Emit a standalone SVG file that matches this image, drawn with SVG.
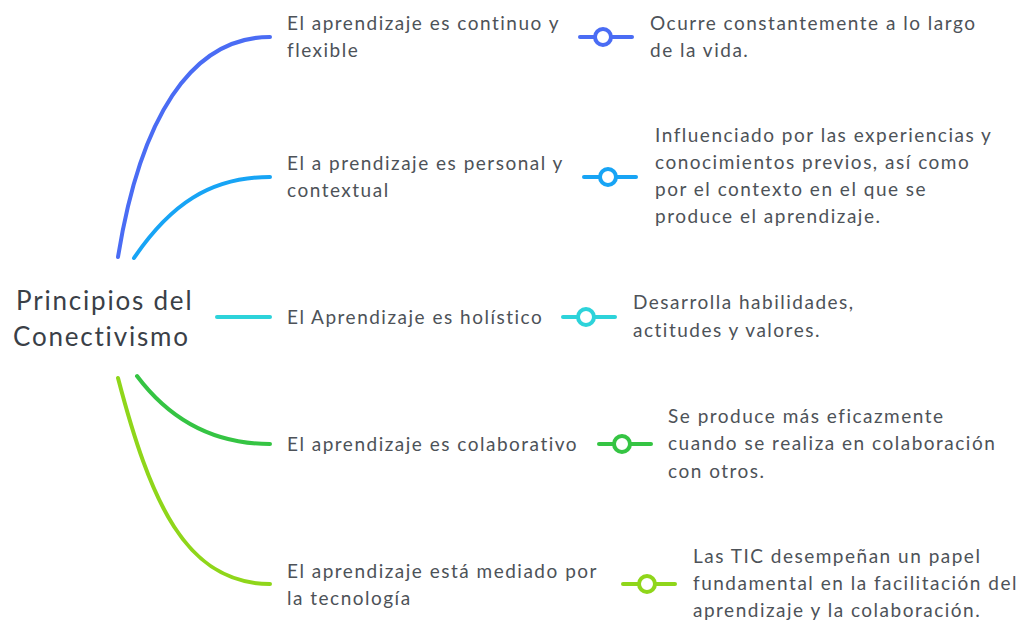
<svg xmlns="http://www.w3.org/2000/svg" width="1019" height="623" viewBox="0 0 1019 623">
<style>
.t{font-family:Lato,"Noto Sans",sans-serif;font-size:19px;fill:#4d5258;letter-spacing:1.5px}
.c{font-family:Lato,"Noto Sans",sans-serif;font-size:26px;fill:#3a4047;letter-spacing:1.8px}
.br{fill:none;stroke-width:4;stroke-linecap:round}
.mk line{stroke-width:4;stroke-linecap:round}
.mk circle{fill:#fff;stroke-width:4}
</style>
<rect width="1019" height="623" fill="#fff"/>
<g id="connectors">
<path class="br" stroke="#4a6cf4" d="M118,257 C140,120 190,37 270,37"/>
<path class="br" stroke="#17a4f5" d="M134,258 C170,205 210,177 270,177"/>
<path class="br" stroke="#2dd3da" d="M217,317 L270,317"/>
<path class="br" stroke="#35c443" d="M137,376 C170,420 215,444 270,444"/>
<path class="br" stroke="#8fd61a" d="M118,378 C150,500 185,584 270,584"/>
<g class="mk" stroke="#4a6cf4"><line x1="580" y1="37" x2="632" y2="37"/><circle cx="603" cy="37" r="8"/></g>
<g class="mk" stroke="#17a4f5"><line x1="584" y1="177" x2="636" y2="177"/><circle cx="608" cy="177" r="8"/></g>
<g class="mk" stroke="#2dd3da"><line x1="563" y1="317" x2="615" y2="317"/><circle cx="586" cy="317" r="8"/></g>
<g class="mk" stroke="#35c443"><line x1="599" y1="444" x2="651" y2="444"/><circle cx="622" cy="444" r="8"/></g>
<g class="mk" stroke="#8fd61a"><line x1="623" y1="584" x2="675" y2="584"/><circle cx="647" cy="584" r="8"/></g>
</g>
<g id="central"><text class="c" x="16" y="310">Principios del</text><text class="c" x="13" y="346">Conectivismo</text></g>
<g id="topic1"><text class="t" x="287" y="30">El aprendizaje es continuo y</text><text class="t" x="287" y="57">flexible</text></g>
<g id="topic2"><text class="t" x="287" y="170">El a prendizaje es personal y</text><text class="t" x="287" y="197">contextual</text></g>
<g id="topic3"><text class="t" x="287" y="324">El Aprendizaje es holístico</text></g>
<g id="topic4"><text class="t" x="287" y="451">El aprendizaje es colaborativo</text></g>
<g id="topic5"><text class="t" x="287" y="578">El aprendizaje está mediado por</text><text class="t" x="287" y="605">la tecnología</text></g>
<g id="detail1"><text class="t" x="650" y="30">Ocurre constantemente a lo largo</text><text class="t" x="650" y="57">de la vida.</text></g>
<g id="detail2"><text class="t" x="655" y="142">Influenciado por las experiencias y</text><text class="t" x="655" y="169">conocimientos previos, así como</text><text class="t" x="655" y="196">por el contexto en el que se</text><text class="t" x="655" y="223">produce el aprendizaje.</text></g>
<g id="detail3"><text class="t" x="633" y="309">Desarrolla habilidades,</text><text class="t" x="633" y="337">actitudes y valores.</text></g>
<g id="detail4"><text class="t" x="668" y="423">Se produce más eficazmente</text><text class="t" x="668" y="450">cuando se realiza en colaboración</text><text class="t" x="668" y="478">con otros.</text></g>
<g id="detail5"><text class="t" x="693" y="563">Las TIC desempeñan un papel</text><text class="t" x="693" y="590">fundamental en la facilitación del</text><text class="t" x="693" y="617">aprendizaje y la colaboración.</text></g>
</svg>
